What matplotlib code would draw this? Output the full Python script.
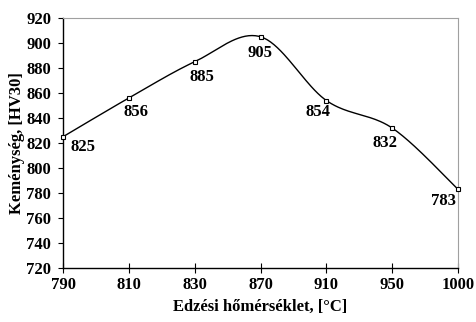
import numpy as np
import matplotlib
matplotlib.use('Agg')
from matplotlib import pyplot as plt

temps = ['790', '810', '830', '870', '910', '950', '1000']
hardness = [825, 856, 885, 905, 854, 832, 783]
# label offsets in points (dx, dy) relative to each point
label_offsets = [(14.4, -7.2), (5, -10), (5, -10.8), (-0.7, -11.5), (-5.8, -8.6), (-5, -10.8), (-10.8, -8.6)]

plt.rcParams['font.family'] = ['Liberation Serif', 'DejaVu Serif']
plt.rcParams['font.weight'] = 'bold'

fig = plt.figure(figsize=(4.76, 3.22), dpi=100)
ax = fig.add_axes([63 / 476, 1 - 268 / 322, (458 - 63) / 476, (268 - 18) / 322])

x = np.arange(len(temps), dtype=float)
y = np.array(hardness, dtype=float)

# smoothed line like a spreadsheet chart (Catmull-Rom -> cubic bezier)
px = np.concatenate([[x[0]], x, [x[-1]]])
py = np.concatenate([[y[0]], y, [y[-1]]])
t = np.linspace(0, 1, 40)
cx, cy = [], []
for i in range(1, len(px) - 2):
    p0 = np.array([px[i], py[i]])
    p3 = np.array([px[i + 1], py[i + 1]])
    p1 = p0 + (np.array([px[i + 1], py[i + 1]]) - np.array([px[i - 1], py[i - 1]])) / 6
    p2 = p3 - (np.array([px[i + 2], py[i + 2]]) - np.array([px[i], py[i]])) / 6
    for tt in t:
        b = ((1 - tt) ** 3) * p0 + 3 * ((1 - tt) ** 2) * tt * p1 + 3 * (1 - tt) * tt ** 2 * p2 + tt ** 3 * p3
        cx.append(b[0])
        cy.append(b[1])

ax.plot(cx, cy, color='black', lw=1.0, zorder=2, clip_on=False)
ax.plot(x, y, ls='none', marker='s', ms=3, mfc='white', mec='black', mew=0.8, zorder=3, clip_on=False)

for xi, yi, (dx, dy) in zip(x, y, label_offsets):
    ax.annotate(str(int(yi)), (xi, yi), xytext=(dx, dy), textcoords='offset points',
                ha='center', va='center', fontsize=12, fontweight='bold')

ax.set_xlim(0, len(temps) - 1)
ax.set_ylim(720, 920)
ax.set_yticks(np.arange(720, 921, 20))
ax.set_xticks(x)
ax.set_xticklabels(temps)
ax.tick_params(axis='x', direction='inout', length=7, width=0.8, labelsize=12, pad=3)
ax.tick_params(axis='y', direction='out', length=3.6, width=0.8, labelsize=12, pad=5)

for s in ['top', 'right']:
    ax.spines[s].set_color('#a0a0a0')
    ax.spines[s].set_linewidth(0.8)
ax.spines['left'].set_linewidth(1.0)
ax.spines['bottom'].set_linewidth(1.0)

ax.set_xlabel('Edzési hőmérséklet, [°C]', fontsize=12, fontweight='bold', labelpad=4.5)
ax.set_ylabel('Keménység, [HV30]', fontsize=12, fontweight='bold', labelpad=0.5)

fig.savefig('out.png', dpi=100)
